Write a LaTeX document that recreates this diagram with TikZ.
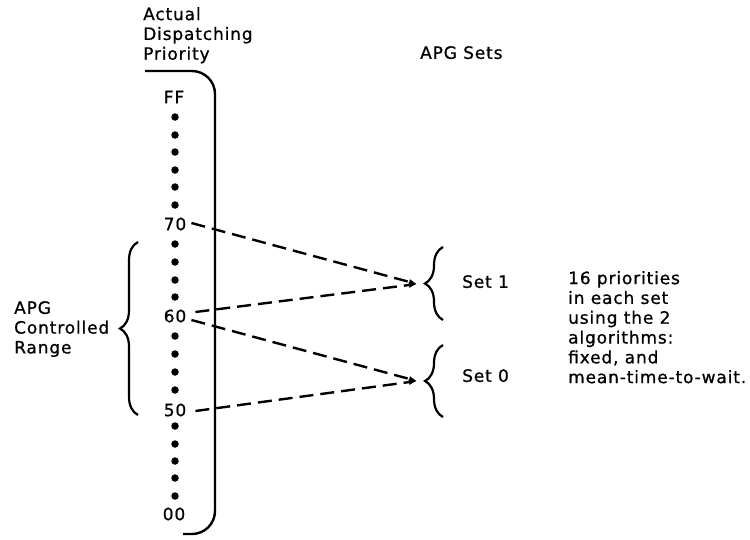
\documentclass[tikz,border=0pt]{standalone}
\usepackage{fontspec}
\newfontfamily\dv[LetterSpace=5,FakeBold=0.8]{DejaVu Sans}
\usetikzlibrary{decorations.pathreplacing,arrows.meta}
\begin{document}
\begin{tikzpicture}[x=1pt,y=-1pt,
  lbl/.style={font={\dv\fontsize{17}{19.8}\selectfont},inner sep=0pt,align=left,anchor=north west},
  num/.style={font={\dv\fontsize{17}{19.8}\selectfont},inner sep=1pt,anchor=center},
  pdot/.style={fill=black,circle,inner sep=0pt,minimum size=7.5pt},
  col/.style={line width=2.4pt,rounded corners=23pt},
  dline/.style={line width=2.4pt,dash pattern=on 14pt off 7pt,-{Latex[length=8pt,width=6pt]}},
  brc/.style={line width=2.2pt,decorate,decoration={brace,amplitude=18pt}}]
\useasboundingbox (0,0) rectangle (750,539);
% headings
\node[lbl] (hdr) at (143,7) {Actual\\Dispatching\\Priority};
\node[lbl] (apgsets) at (420,46) {APG Sets};
\node[lbl] (range) at (14,301) {APG\\Controlled\\Range};
% column outline
\draw[col] (145,71) -- (215,71) -- (215,534) -- (183,534);
% priority labels
\node[num] (nFF) at (174,97) {FF};
\node[num] (n70) at (175,224) {70};
\node[num] (n60) at (175,316) {60};
\node[num] (n50) at (175,410) {50};
\node[num] (n00) at (174,514) {00};
% dots
\foreach \y [count=\i] in {117,135,152,170,187,205, 244,262,280,297, 336,354,372,390, 426,444,461,478,496}
  \node[pdot] (d\i) at (175,\y) {};
% braces
\draw[brc] (138,415) -- (138,242);
\draw[brc] (443,320) -- (443,247);
\draw[brc] (443,417) -- (443,345);
% convergence points
\coordinate (t1) at (417,284);
\coordinate (t0) at (417,381);
% dashed connectors
\draw[dline] ([xshift=4pt,yshift=1pt]n70.east) -- (t1);
\draw[dline] ([xshift=8pt,yshift=4pt]n60.east) -- (t1);
\draw[dline] ([xshift=4pt,yshift=-4pt]n60.east) -- (t0);
\draw[dline] ([xshift=8pt,yshift=-1pt]n50.east) -- (t0);
% set labels
\node[lbl] (set1) at (462,275) {Set 1};
\node[lbl] (set0) at (462,369) {Set 0};
\node[lbl] (desc) at (568,271) {16 priorities\\in each set\\using the 2\\algorithms:\\fixed, and\\mean-time-to-wait.};
\end{tikzpicture}
\end{document}
